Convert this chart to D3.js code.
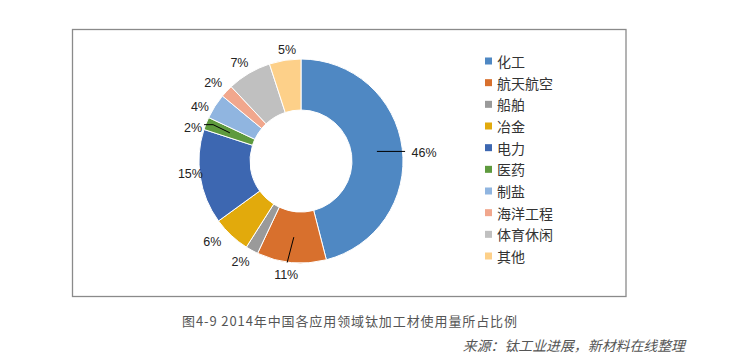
<!DOCTYPE html>
<html><head><meta charset="utf-8">
<script src="https://cdn.jsdelivr.net/npm/d3@7"></script>
<style>html,body{margin:0;padding:0;background:#fff;}svg{display:block;}</style>
</head><body>
<svg id="chart" width="748" height="357"></svg>
<script>
const categories = ["化工","航天航空","船舶","冶金","电力","医药","制盐","海洋工程","体育休闲","其他"];
const values = [46, 11, 2, 6, 15, 2, 4, 2, 7, 5];
const colors = ["#4F88C3","#D8702D","#9A9A9A","#E2AA0C","#3D67B1","#5E9A3E","#90B5E0","#F1A78D","#C0C0C0","#FDD089"];
const captionText = "图4-9 2014年中国各应用领域钛加工材使用量所占比例";
const sourceText = "来源：钛工业进展，新材料在线整理";

const svg = d3.select("#chart");

// frame
svg.append("rect").attr("x", 72.5).attr("y", 29.5).attr("width", 553.5).attr("height", 267)
  .attr("fill", "#fff").attr("stroke", "#8a8a8a").attr("stroke-width", 1.3);

const cx = 301, cy = 161, R = 102, r0 = 51;
const total = d3.sum(values);
const pie = d3.pie().sort(null).value(d => d)(values);
const arc = d3.arc().innerRadius(r0).outerRadius(R);
const midArc = d3.arc().innerRadius((R + r0) / 2).outerRadius((R + r0) / 2);
const labelArc = d3.arc().innerRadius(115).outerRadius(115);

const g = svg.append("g").attr("transform", `translate(${cx},${cy})`);
g.selectAll("path.slice").data(pie).join("path").attr("class", "slice")
  .attr("d", arc).attr("fill", (d, i) => colors[i]).attr("stroke", "#fff").attr("stroke-width", 1);

// label placement adjustments (best-fit style)
const nudge = {"化工":[9,6],"航天航空":[-4,0],"船舶":[-5,0],"冶金":[-10,-3],"电力":[3,-5],
  "医药":[-1,9],"制盐":[-4,8],"海洋工程":[-4,1],"体育休闲":[-3,1],"其他":[4,3]};
const fmt = v => Math.round(v / total * 100) + "%";

const labels = pie.map((d, i) => {
  const c = labelArc.centroid(d);
  const n = nudge[categories[i]];
  return {d, i, x: c[0] + n[0], y: c[1] + n[1], text: fmt(values[i])};
});

// leader lines
const lineG = g.append("g").attr("stroke", "#000").attr("stroke-width", 1).attr("fill", "none");
labels.forEach(L => {
  const m = midArc.centroid(L.d);
  const name = categories[L.i];
  if (name === "化工") {
    lineG.append("path").attr("d", `M${m[0]},${m[1]}H${L.x - 19}`);
  } else if (name === "航天航空") {
    lineG.append("path").attr("d", `M${m[0]},${m[1]}L${L.x + 1},${L.y - 13}`);
  } else if (name === "医药") {
    lineG.append("path").attr("d", `M${m[0]},${m[1]}L${L.x + 20},${L.y - 3}H${L.x + 11}`);
  }
});

g.selectAll("text.lbl").data(labels).join("text").attr("class", "lbl")
  .attr("x", d => d.x).attr("y", d => d.y).attr("text-anchor", "middle").attr("dominant-baseline", "central")
  .attr("font-family", "Liberation Sans, Arial, sans-serif").attr("font-size", 12.5).attr("fill", "#222")
  .text(d => d.text);

// legend
const ly = d3.scalePoint().domain(categories).range([61, 256]);
const leg = svg.append("g");
categories.forEach((c, i) => {
  leg.append("rect").attr("x", 485).attr("y", ly(c) - 3.5).attr("width", 7).attr("height", 7).attr("fill", colors[i]);
  leg.append("text").attr("x", 497).attr("y", ly(c)).attr("dominant-baseline", "central")
    .attr("font-family", "Noto Sans CJK SC, sans-serif").attr("font-size", 14).attr("fill", "#333").text(c);
});

// caption & source
svg.append("text").attr("x", 182).attr("y", 320).attr("dominant-baseline", "central")
  .attr("font-family", "Noto Sans CJK SC, sans-serif").attr("font-size", 13).attr("fill", "#555")
  .attr("textLength", 335).attr("lengthAdjust", "spacing")
  .text(captionText);
svg.append("text").attr("x", 685).attr("y", 345).attr("text-anchor", "end").attr("dominant-baseline", "central")
  .attr("font-family", "Noto Sans CJK SC, sans-serif").attr("font-size", 13.9).attr("font-style", "italic").attr("fill", "#555")
  .text(sourceText);
</script>
</body></html>
